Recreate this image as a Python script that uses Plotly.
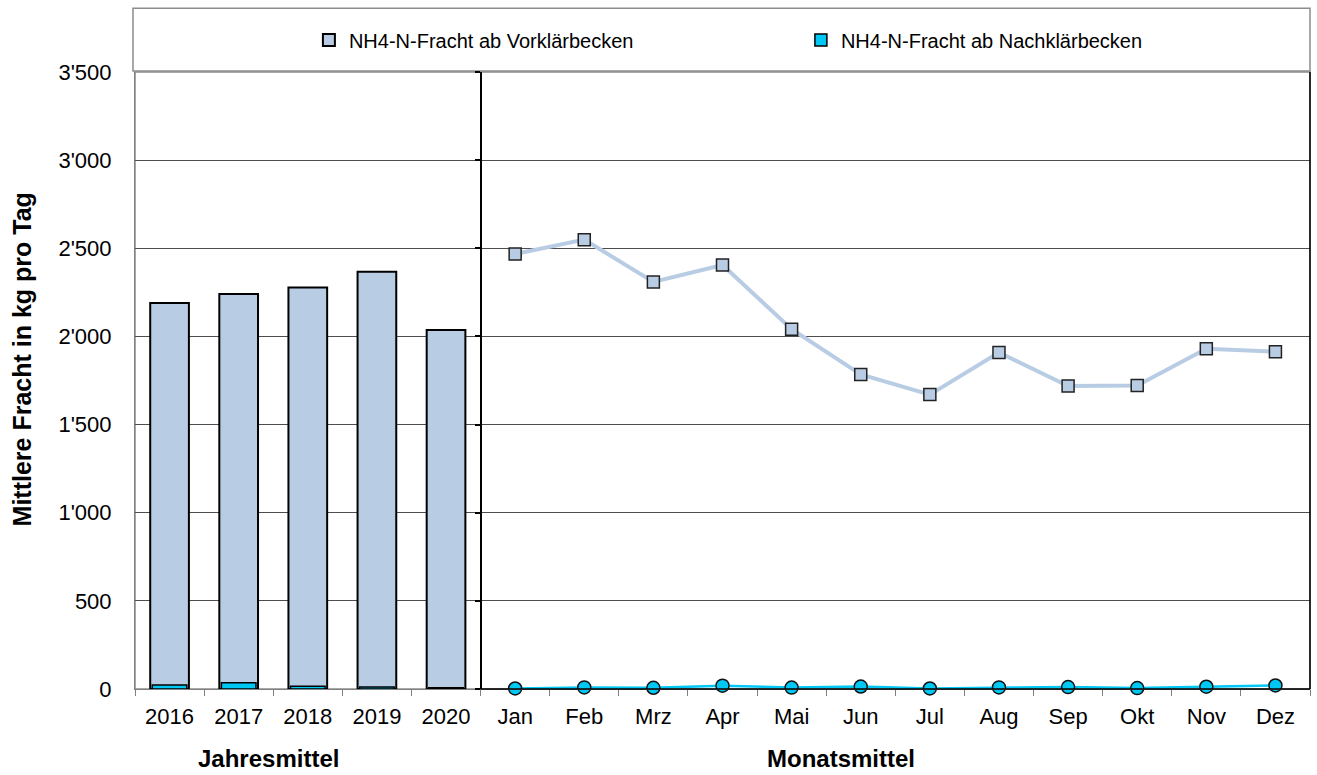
import plotly.graph_objects as go

years = ["2016", "2017", "2018", "2019", "2020"]
months = ["Jan", "Feb", "Mrz", "Apr", "Mai", "Jun", "Jul", "Aug", "Sep", "Okt", "Nov", "Dez"]

vkb_years = [2189, 2240, 2278, 2367, 2036]
nkb_years = [22, 35, 15, 12, 7]

vkb_months = [2468, 2549, 2309, 2405, 2041, 1784, 1670, 1909, 1719, 1722, 1930, 1913]
nkb_months = [3, 9, 7, 19, 8, 14, 3, 9, 11, 5, 13, 20]

y_ticks = [0, 500, 1000, 1500, 2000, 2500, 3000, 3500]

name_vkb = "NH4-N-Fracht ab Vorklärbecken"
name_nkb = "NH4-N-Fracht ab Nachklärbecken"

C_VKB = "#B8CCE4"
C_NKB = "#00C8F5"
FONT = "Liberation Sans, Arial, sans-serif"

fig = go.Figure()

fig.add_trace(go.Bar(
    x=years, y=vkb_years, name=name_vkb, width=0.56,
    marker=dict(color=C_VKB, line=dict(color="#000000", width=2)),
))
fig.add_trace(go.Bar(
    x=years, y=nkb_years, name=name_nkb, width=0.50,
    marker=dict(color=C_NKB, line=dict(color="#000000", width=1.5)),
))
fig.add_trace(go.Scatter(
    x=months, y=vkb_months, mode="lines+markers", showlegend=False, yaxis="y2",
    line=dict(color=C_VKB, width=4),
    marker=dict(symbol="square", size=12, color=C_VKB, line=dict(color="#222222", width=1.5)),
    cliponaxis=False,
))
fig.add_trace(go.Scatter(
    x=months, y=nkb_months, mode="lines+markers", showlegend=False, yaxis="y2",
    line=dict(color=C_NKB, width=2.5),
    marker=dict(symbol="circle", size=13, color=C_NKB, line=dict(color="#111111", width=1.5)),
    cliponaxis=False,
))

fig.update_layout(
    width=1317, height=775,
    margin=dict(l=135, r=7, t=72, b=86),
    paper_bgcolor="white", plot_bgcolor="white",
    separators=".'",
    barmode="overlay",
    font=dict(family=FONT, size=22, color="#000000"),
    xaxis=dict(
        type="category", categoryorder="array", categoryarray=years + months,
        tickson="boundaries", ticks="outside", ticklen=6, tickcolor="#808080",
        showline=True, linecolor="#808080", linewidth=1,
        showgrid=False, ticklabelstandoff=8,
        tickfont=dict(size=22), range=[-0.5, 16.5],
    ),
    yaxis=dict(
        range=[0, 3500], tickvals=y_ticks, tickformat=",d",
        showline=True, linecolor="#808080", linewidth=1,
        showgrid=True, gridcolor="#4d4d4d", gridwidth=1,
        ticks="", ticklabelstandoff=18, zeroline=False,
        tickfont=dict(size=22),
    ),
    yaxis2=dict(
        range=[0, 3500], tickvals=y_ticks, overlaying="y", anchor="free",
        position=5 / 17, side="left",
        showline=True, linecolor="#000000", linewidth=2,
        ticks="outside", ticklen=5, tickcolor="#000000", tickwidth=1.5,
        showticklabels=False, showgrid=False, zeroline=False,
    ),
    legend=dict(
        orientation="h", x=0.148, xanchor="left", y=1.052, yanchor="middle",
        font=dict(size=20), entrywidth=447, bgcolor="rgba(0,0,0,0)",
        traceorder="normal",
    ),
    shapes=[
        dict(type="rect", xref="paper", yref="paper", x0=-0.0017, x1=1, y0=1.0016, y1=1.1032,
             line=dict(color="#8c8c8c", width=1.5), layer="below"),
        dict(type="rect", xref="paper", yref="paper", x0=0, x1=1, y0=0, y1=1,
             line=dict(color="#8c8c8c", width=1.5), layer="below"),
        dict(type="line", xref="paper", yref="paper", x0=1, x1=1, y0=0, y1=1,
             line=dict(color="#000000", width=1.5)),
        dict(type="line", xref="paper", yref="paper", x0=5 / 17, x1=1, y0=0, y1=0,
             line=dict(color="#000000", width=1.5)),
    ],
    annotations=[
        dict(text="<b>Mittlere Fracht in kg pro Tag</b>", xref="paper", yref="paper",
             x=-0.0966, y=0.535, textangle=-90, showarrow=False,
             font=dict(size=25), xanchor="center", yanchor="middle"),
        dict(text="<b>Jahresmittel</b>", xref="paper", yref="paper",
             x=0.1132, y=-0.113, showarrow=False, font=dict(size=24),
             xanchor="center", yanchor="middle"),
        dict(text="<b>Monatsmittel</b>", xref="paper", yref="paper",
             x=0.601, y=-0.113, showarrow=False, font=dict(size=24),
             xanchor="center", yanchor="middle"),
    ],
)

fig.write_html(
    "out.html",
    config={"displayModeBar": False},
    post_script="document.body.style.margin='0px';document.body.style.overflow='hidden';",
)
